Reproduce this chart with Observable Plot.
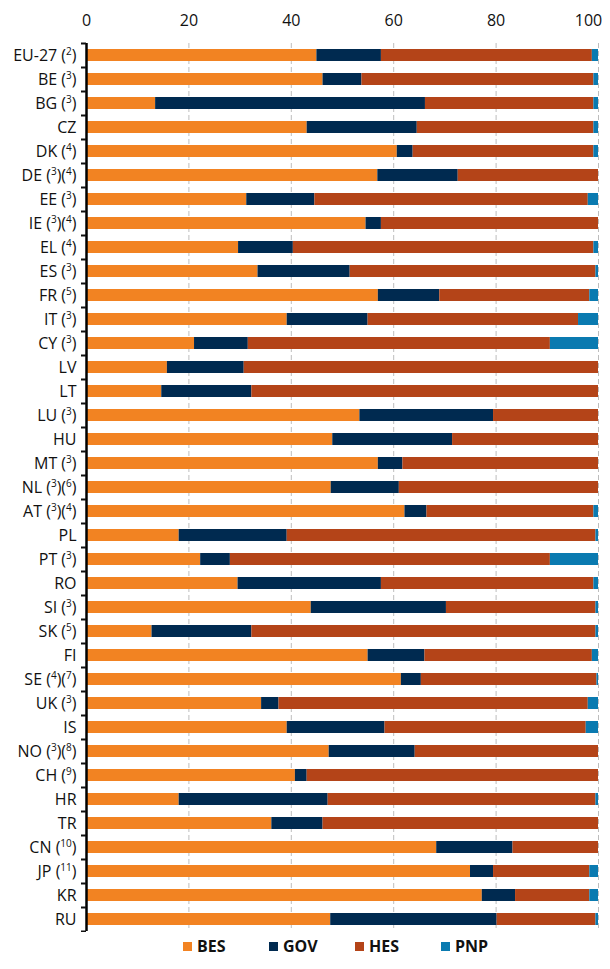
<!DOCTYPE html>
<html>
<head>
<meta charset="utf-8">
<script src="https://cdn.jsdelivr.net/npm/d3@7"></script>
<script src="https://cdn.jsdelivr.net/npm/@observablehq/plot@0.6"></script>
<style>
  body { margin: 0; background: #fff; font-family: "Open Sans", sans-serif; }
  #legend { display: flex; align-items: center; padding-left: 183px; height: 26px; margin-top: 1px; }
  .item { display: flex; align-items: center; width: 86px; font-weight: 700; font-size: 16px; color: #111; }
  .sw { width: 9px; height: 9px; margin-right: 5px; display: inline-block; }
</style>
</head>
<body>
<div id="chart"></div>
<div id="legend"></div>
<script>
const countries = ["EU-27","BE","BG","CZ","DK","DE","EE","IE","EL","ES","FR","IT","CY","LV","LT","LU","HU","MT","NL","AT","PL","PT","RO","SI","SK","FI","SE","UK","IS","NO","CH","HR","TR","CN","JP","KR","RU"];
const notes = [["2"],["3"],["3"],[],["4"],["3","4"],["3"],["3","4"],["4"],["3"],["5"],["3"],["3"],[],[],["3"],[],["3"],["3","6"],["3","4"],[],["3"],[],["3"],["5"],[],["4","7"],["3"],[],["3","8"],["9"],[],[],["10"],["11"],[],[]];
const bes = [45.0,46.2,13.5,43.1,60.7,56.9,31.3,54.6,29.7,33.5,57.0,39.2,21.1,15.8,14.7,53.4,48.1,57.0,47.8,62.2,18.1,22.3,29.6,43.9,12.8,55.0,61.5,34.2,39.2,47.4,40.8,18.1,36.2,68.4,75.0,77.3,47.7];
const gov = [12.6,7.6,52.7,21.5,3.1,15.7,13.3,3.0,10.7,18.0,12.0,15.8,10.5,15.0,17.6,26.1,23.4,4.8,13.3,4.3,21.1,5.8,28.0,26.4,19.5,11.1,3.9,3.4,19.1,16.8,2.3,29.1,10.0,14.9,4.5,6.5,32.5];
const hes = [41.2,45.3,32.9,34.5,35.3,27.4,53.4,42.4,58.7,48.0,29.3,41.1,59.0,69.2,67.7,20.5,28.5,38.2,38.9,32.6,60.3,62.5,41.5,29.2,67.2,32.7,34.3,60.4,39.3,35.8,56.9,52.3,53.8,16.7,18.8,14.5,19.3];
const pnp = [1.2,0.9,0.9,0.9,0.9,0.0,2.0,0.0,0.9,0.5,1.7,3.9,9.4,0.0,0.0,0.0,0.0,0.0,0.0,0.9,0.5,9.4,0.9,0.5,0.5,1.2,0.3,2.0,2.4,0.0,0.0,0.5,0.0,0.0,1.7,1.7,0.5];
const sectors = ["BES","GOV","HES","PNP"];
const colors = ["#f28322","#002a50","#b44418","#0a7ab0"];
const xTicks = [0,20,40,60,80,100];

const series = [bes, gov, hes, pnp];
const data = countries.flatMap((c, i) => sectors.map((s, j) => ({country: c, sector: s, value: series[j][i]})));

const plot = Plot.plot({
  width: 610,
  height: 932,
  marginLeft: 86,
  marginRight: 12,
  marginTop: 43,
  marginBottom: 1,
  style: {fontFamily: "Open Sans, sans-serif", fontSize: "16px", color: "#111"},
  x: {domain: [0, 100]},
  y: {domain: countries, paddingInner: 0.48, paddingOuter: 0.24},
  color: {domain: sectors, range: colors},
  marks: [
    Plot.gridX({ticks: xTicks.slice(1), stroke: "#bdbdbd", strokeOpacity: 1, strokeDasharray: "5,3"}),
    Plot.barX(data, {x: "value", y: "country", fill: "sector"}),
    Plot.ruleX([0], {stroke: "#000", strokeWidth: 2.5}),
    Plot.axisX({anchor: "top", ticks: xTicks, tickSize: 0, tickPadding: 18, fontSize: 16, label: null}),
    Plot.axisY({tickSize: 0, tickPadding: 10, fontSize: 16, label: null}),
    Plot.axisY({tickSize: 5, strokeWidth: 2, dy: -12, tickFormat: () => "", label: null}),
    Plot.axisY({ticks: countries.slice(-1), tickSize: 5, strokeWidth: 2, dy: 12, tickFormat: () => "", label: null})
  ]
});
document.getElementById("chart").appendChild(plot);

// keep the "100" label inside the picture
const xLabels = d3.select(plot).selectAll('g[aria-label="x-axis tick label"] text').nodes();
if (xLabels.length) d3.select(xLabels[xLabels.length - 1]).attr("dx", -10);

// superscript footnote markers
d3.select(plot).selectAll('g[aria-label="y-axis tick label"] text').each(function() {
  const t = d3.select(this);
  const c = t.text();
  const i = countries.indexOf(c);
  if (i < 0) return;
  const n = notes[i];
  t.text("").style("white-space", "pre");
  t.append("tspan").text(n.length ? c + " " : c);
  n.forEach(k => {
    t.append("tspan").text("(");
    t.append("tspan").attr("font-size", 10).attr("dy", -6).text(k);
    t.append("tspan").attr("dy", 6).text(")");
  });
});

const legend = d3.select("#legend");
sectors.forEach((s, j) => {
  const it = legend.append("div").attr("class", "item");
  it.append("span").attr("class", "sw").style("background", colors[j]);
  it.append("span").text(s);
});
</script>
</body>
</html>
